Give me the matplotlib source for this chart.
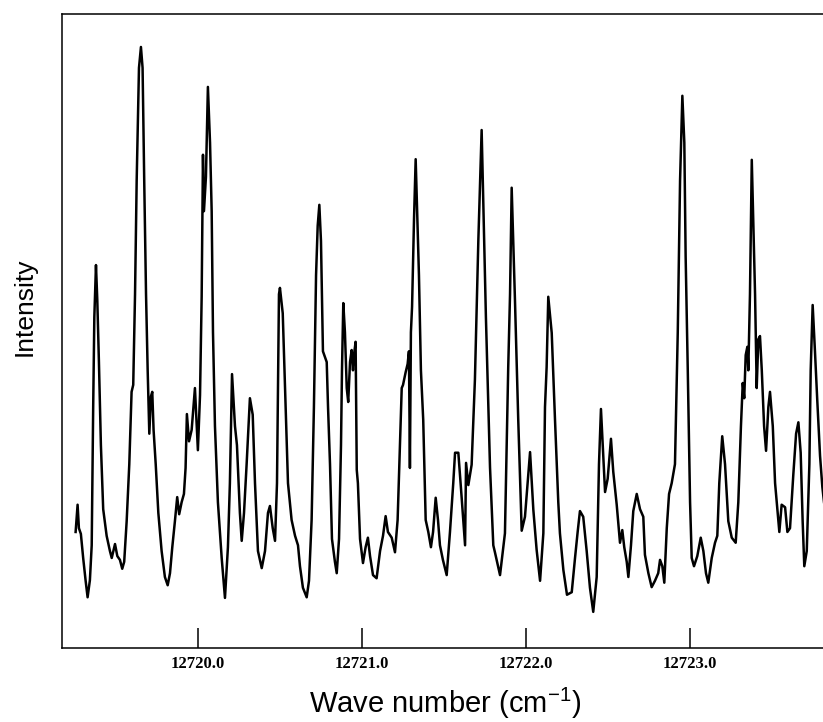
import matplotlib
matplotlib.use("Agg")
import matplotlib.pyplot as plt

# spectrum (intensity in arbitrary units, 0-100 = axis frame)
wavenumber = [
    12719.257, 12719.269, 12719.277, 12719.289, 12719.303, 12719.318, 12719.330, 12719.344,
    12719.355, 12719.364, 12719.371, 12719.381, 12719.389, 12719.399, 12719.411, 12719.425,
    12719.446, 12719.466, 12719.477, 12719.497, 12719.511, 12719.527, 12719.541, 12719.553,
    12719.568, 12719.584, 12719.598, 12719.608, 12719.619, 12719.629, 12719.643, 12719.655,
    12719.665, 12719.675, 12719.686, 12719.696, 12719.706, 12719.716, 12719.724, 12719.732,
    12719.745, 12719.761, 12719.781, 12719.801, 12719.818, 12719.832, 12719.846, 12719.862,
    12719.876, 12719.888, 12719.903, 12719.917, 12719.927, 12719.935, 12719.948, 12719.964,
    12719.984, 12720.002, 12720.015, 12720.025, 12720.033, 12720.039, 12720.051, 12720.063,
    12720.076, 12720.086, 12720.094, 12720.106, 12720.124, 12720.147, 12720.167, 12720.185,
    12720.197, 12720.210, 12720.228, 12720.240, 12720.258, 12720.269, 12720.283, 12720.299,
    12720.319, 12720.336, 12720.350, 12720.368, 12720.391, 12720.411, 12720.429, 12720.441,
    12720.458, 12720.472, 12720.484, 12720.496, 12720.502, 12720.519, 12720.533, 12720.551,
    12720.573, 12720.594, 12720.612, 12720.624, 12720.642, 12720.665, 12720.679, 12720.695,
    12720.709, 12720.722, 12720.732, 12720.742, 12720.752, 12720.764, 12720.787, 12720.795,
    12720.807, 12720.819, 12720.837, 12720.848, 12720.862, 12720.874, 12720.880, 12720.888,
    12720.898, 12720.909, 12720.918, 12720.929, 12720.939, 12720.947, 12720.953, 12720.963,
    12720.970, 12720.977, 12720.990, 12721.008, 12721.024, 12721.038, 12721.051, 12721.069,
    12721.091, 12721.112, 12721.130, 12721.146, 12721.160, 12721.183, 12721.203, 12721.219,
    12721.233, 12721.244, 12721.252, 12721.268, 12721.280, 12721.288, 12721.294, 12721.300,
    12721.307, 12721.319, 12721.329, 12721.339, 12721.349, 12721.361, 12721.375, 12721.390,
    12721.406, 12721.422, 12721.435, 12721.451, 12721.465, 12721.477, 12721.495, 12721.518,
    12721.538, 12721.558, 12721.569, 12721.589, 12721.609, 12721.630, 12721.636, 12721.650,
    12721.670, 12721.690, 12721.711, 12721.731, 12721.745, 12721.757, 12721.782, 12721.802,
    12721.812, 12721.843, 12721.873, 12721.893, 12721.904, 12721.914, 12721.934, 12721.954,
    12721.975, 12721.995, 12722.026, 12722.046, 12722.066, 12722.087, 12722.107, 12722.117,
    12722.127, 12722.137, 12722.158, 12722.178, 12722.198, 12722.208, 12722.229, 12722.251,
    12722.280, 12722.300, 12722.316, 12722.330, 12722.350, 12722.371, 12722.391, 12722.411,
    12722.432, 12722.446, 12722.458, 12722.469, 12722.483, 12722.499, 12722.519, 12722.533,
    12722.554, 12722.574, 12722.588, 12722.600, 12722.615, 12722.625, 12722.641, 12722.655,
    12722.676, 12722.696, 12722.716, 12722.726, 12722.747, 12722.767, 12722.787, 12722.807,
    12722.818, 12722.832, 12722.844, 12722.859, 12722.873, 12722.889, 12722.909, 12722.926,
    12722.940, 12722.954, 12722.966, 12722.974, 12722.987, 12723.001, 12723.011, 12723.025,
    12723.045, 12723.066, 12723.082, 12723.098, 12723.112, 12723.133, 12723.153, 12723.167,
    12723.179, 12723.197, 12723.214, 12723.234, 12723.255, 12723.279, 12723.295, 12723.311,
    12723.322, 12723.331, 12723.340, 12723.350, 12723.356, 12723.366, 12723.377, 12723.386,
    12723.397, 12723.407, 12723.417, 12723.427, 12723.438, 12723.452, 12723.464, 12723.478,
    12723.488, 12723.505, 12723.519, 12723.533, 12723.545, 12723.559, 12723.580, 12723.594,
    12723.610, 12723.630, 12723.647, 12723.661, 12723.675, 12723.687, 12723.697, 12723.712,
    12723.728, 12723.736, 12723.748, 12723.762, 12723.776, 12723.793, 12723.807, 12723.829,
]

intensity = [
    18.3, 22.6, 18.9, 18.0, 14.2, 10.6, 8.0, 10.7,
    16.2, 38.0, 52.2, 60.4, 54.9, 45.1, 32.0, 21.9,
    17.7, 15.3, 14.2, 16.4, 14.5, 13.9, 12.5, 13.6,
    20.0, 29.0, 40.4, 41.5, 55.8, 73.7, 91.5, 94.8,
    91.5, 73.7, 55.8, 43.8, 33.8, 39.7, 40.4, 34.4,
    29.0, 21.3, 15.3, 11.2, 9.9, 11.8, 15.9, 20.0,
    23.8, 21.1, 23.0, 24.3, 28.4, 36.9, 32.6, 34.4,
    41.0, 31.2, 39.9, 55.4, 77.8, 68.9, 74.3, 88.5,
    79.7, 68.9, 49.8, 35.0, 23.0, 14.2, 7.9, 15.9,
    26.0, 43.2, 35.0, 32.0, 21.3, 16.9, 21.3, 29.0,
    39.4, 36.8, 26.0, 15.3, 12.6, 15.3, 21.3, 22.4,
    18.9, 16.9, 26.0, 55.8, 56.8, 52.8, 41.0, 26.0,
    20.2, 17.7, 16.2, 12.9, 9.5, 8.0, 10.6, 20.2,
    38.0, 58.8, 66.6, 69.9, 64.2, 46.8, 45.1, 38.0,
    29.0, 17.2, 13.6, 11.8, 17.2, 32.0, 43.8, 54.4,
    49.8, 41.0, 38.8, 45.1, 47.0, 43.8, 46.2, 48.3,
    28.1, 26.0, 17.2, 13.4, 15.9, 17.4, 14.5, 11.5,
    11.0, 15.3, 17.7, 20.8, 18.3, 17.4, 15.1, 20.2,
    32.0, 41.0, 41.5, 43.5, 44.8, 46.8, 28.4, 49.8,
    53.8, 67.7, 77.1, 67.7, 58.8, 43.8, 36.0, 20.2,
    18.3, 15.9, 18.3, 23.7, 20.2, 16.2, 13.9, 11.5,
    18.3, 26.0, 30.8, 30.8, 23.8, 16.2, 29.2, 25.7,
    28.9, 42.3, 64.4, 81.7, 65.5, 52.2, 28.5, 16.2,
    15.1, 11.5, 18.1, 44.3, 55.8, 72.6, 54.9, 36.0,
    18.5, 20.7, 30.9, 21.8, 15.5, 10.6, 18.1, 38.0,
    44.3, 55.4, 49.7, 36.0, 23.0, 18.1, 12.3, 8.4,
    8.8, 14.2, 18.3, 21.6, 20.7, 15.3, 9.5, 5.7,
    11.2, 29.0, 37.7, 32.0, 24.6, 26.7, 33.0, 27.8,
    22.6, 16.6, 18.6, 15.9, 13.6, 11.2, 16.2, 21.6,
    24.3, 21.9, 20.7, 14.7, 11.8, 9.6, 10.6, 11.8,
    13.9, 12.9, 10.3, 18.9, 24.3, 26.0, 29.0, 49.8,
    73.7, 87.1, 79.7, 61.8, 43.8, 23.0, 14.2, 12.9,
    14.5, 17.4, 15.3, 11.8, 10.3, 14.2, 16.6, 17.7,
    26.0, 33.4, 29.0, 20.0, 17.4, 16.6, 23.0, 35.0,
    41.8, 39.4, 46.2, 47.5, 43.8, 55.8, 77.0, 67.7,
    55.8, 41.0, 48.7, 49.2, 43.8, 35.0, 31.1, 38.0,
    40.4, 35.0, 26.0, 21.9, 18.3, 22.6, 22.2, 18.3,
    18.9, 27.3, 33.8, 35.6, 30.8, 20.0, 12.9, 15.3,
    29.0, 43.8, 54.1, 46.8, 39.1, 30.3, 25.4, 20.2,
]

tick_values = [12720.0, 12721.0, 12722.0, 12723.0]
tick_labels = ["12720.0", "12721.0", "12722.0", "12723.0"]

fig = plt.figure(figsize=(8.23, 7.22), dpi=100)
ax = fig.add_axes([62 / 823, 1 - 648 / 722, 1 - 62 / 823, (648 - 14) / 722])

ax.plot(wavenumber, intensity, color="black", linewidth=1.8)

ax.set_xlim(12719.174, 12723.811)
ax.set_ylim(0, 100)

ax.set_xticks(tick_values)
ax.set_xticklabels(tick_labels, fontfamily="Liberation Serif", fontweight="bold", fontsize=12)
ax.tick_params(axis="x", direction="in", length=14.5, width=1.1, pad=6)
ax.set_yticks([])
ax.spines["right"].set_visible(False)
for side in ["left", "top", "bottom"]:
    ax.spines[side].set_linewidth(1.1)

fig.text(445 / 823, 1 - 703 / 722, "Wave number (cm$^{\\mathregular{-1}}$)", ha="center", va="center",
         fontsize=21, fontfamily="Liberation Sans")
fig.text(25 / 823, 1 - 307 / 722, "Intensity", ha="center", va="center", rotation=90,
         fontsize=19, fontfamily="Liberation Sans")

fig.savefig("out.png", dpi=100)
